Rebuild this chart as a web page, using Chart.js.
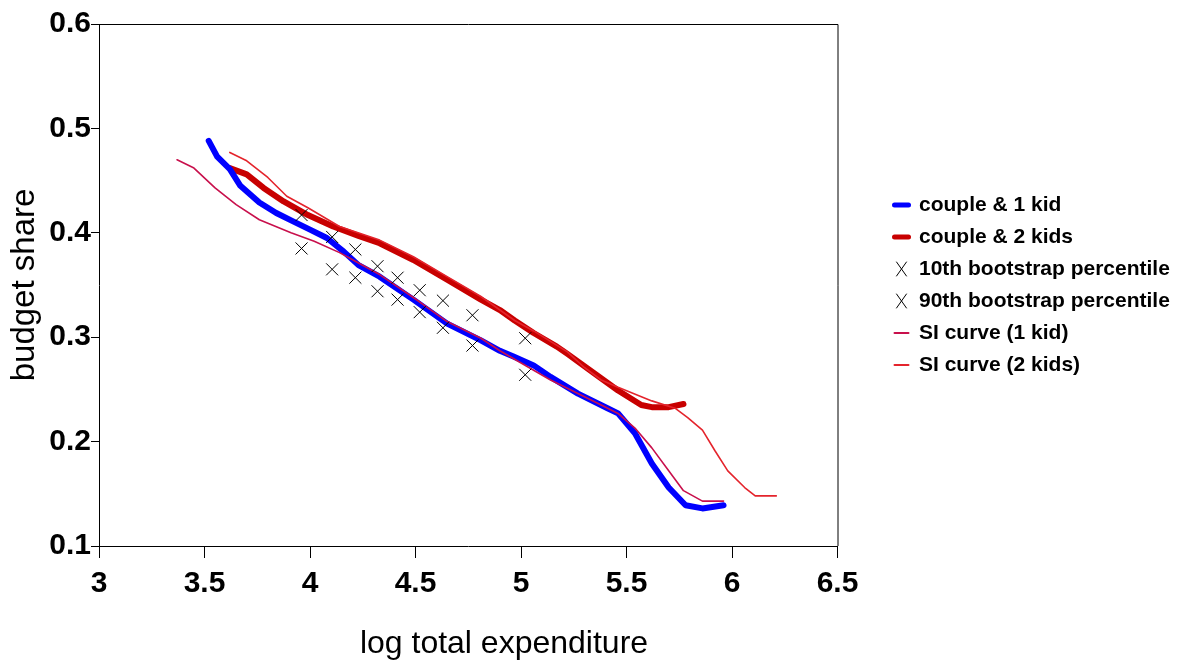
<!DOCTYPE html>
<html>
<head>
<meta charset="utf-8">
<script src="https://cdn.jsdelivr.net/npm/chart.js@4.4.1/dist/chart.umd.min.js"></script>
<style>
  body { margin: 0; background: #fff; }
  canvas { display: block; }
</style>
</head>
<body>
<canvas id="shareChart" width="1185" height="660"></canvas>
<script>
// axis ticks
const xTicks = [3, 3.5, 4, 4.5, 5, 5.5, 6, 6.5];
const yTicks = [0.1, 0.2, 0.3, 0.4, 0.5, 0.6];

// couple & 1 kid (thick blue)
const kid1X = [3.52, 3.56, 3.62, 3.67, 3.76, 3.84, 3.92, 4.00, 4.08, 4.16, 4.23, 4.33, 4.49, 4.65, 4.81, 4.90, 4.97, 5.06, 5.14, 5.27, 5.41, 5.46, 5.54, 5.62, 5.70, 5.78, 5.86, 5.96];
const kid1Y = [0.488, 0.473, 0.461, 0.445, 0.429, 0.419, 0.411, 0.403, 0.395, 0.382, 0.369, 0.358, 0.336, 0.313, 0.297, 0.287, 0.281, 0.273, 0.262, 0.246, 0.232, 0.227, 0.208, 0.179, 0.156, 0.139, 0.136, 0.139];

// couple & 2 kids (thick red)
const kid2X = [3.62, 3.70, 3.78, 3.875, 3.99, 4.11, 4.23, 4.33, 4.49, 4.65, 4.81, 4.90, 4.97, 5.06, 5.17, 5.22, 5.35, 5.46, 5.57, 5.62, 5.70, 5.77];
const kid2Y = [0.462, 0.456, 0.443, 0.430, 0.417, 0.406, 0.397, 0.390, 0.374, 0.355, 0.336, 0.326, 0.316, 0.304, 0.291, 0.284, 0.265, 0.249, 0.235, 0.233, 0.233, 0.236];

// bootstrap percentiles
const bootX = [3.96, 4.105, 4.215, 4.32, 4.415, 4.52, 4.63, 4.77, 5.02];
const p10Y = [0.385, 0.365, 0.357, 0.344, 0.336, 0.324, 0.309, 0.292, 0.264];
const p90Y = [0.417, 0.396, 0.384, 0.368, 0.357, 0.345, 0.335, 0.321, 0.299];

// SI curve (1 kid)
const si1X = [3.37, 3.45, 3.55, 3.65, 3.76, 3.91, 4.02, 4.14, 4.23, 4.33, 4.49, 4.65, 4.81, 4.90, 5.14, 5.38, 5.46, 5.54, 5.62, 5.70, 5.77, 5.86, 5.96];
const si1Y = [0.470, 0.462, 0.443, 0.427, 0.4125, 0.400, 0.392, 0.381, 0.371, 0.360, 0.338, 0.315, 0.299, 0.287, 0.259, 0.235, 0.227, 0.213, 0.194, 0.172, 0.153, 0.143, 0.143];

// SI curve (2 kids)
const si2X = [3.62, 3.70, 3.80, 3.89, 3.99, 4.14, 4.33, 4.49, 4.65, 4.81, 4.97, 5.06, 5.22, 5.30, 5.38, 5.46, 5.62, 5.73, 5.79, 5.86, 5.92, 5.98, 6.06, 6.11, 6.21];
const si2Y = [0.477, 0.469, 0.453, 0.435, 0.424, 0.406, 0.393, 0.377, 0.358, 0.339, 0.316, 0.306, 0.286, 0.271, 0.259, 0.252, 0.239, 0.232, 0.223, 0.211, 0.191, 0.172, 0.156, 0.148, 0.148];

const pts = (xs, ys) => xs.map((x, i) => ({ x: x, y: ys[i] }));

Chart.defaults.font.family = "'Liberation Sans', Arial, sans-serif";
Chart.defaults.color = '#000';

// top/right frame of the plot box + x axis title
const frame = {
  id: 'frame',
  afterDraw(chart) {
    const { ctx, chartArea: a } = chart;
    ctx.save();
    ctx.strokeStyle = '#000';
    ctx.lineWidth = 1;
    ctx.beginPath();
    ctx.moveTo(a.left, a.top + 0.5);
    ctx.lineTo(a.right + 0.5, a.top + 0.5);
    ctx.lineTo(a.right + 0.5, a.bottom);
    ctx.stroke();
    ctx.font = "32px 'Liberation Sans', Arial, sans-serif";
    ctx.fillStyle = '#000';
    ctx.textAlign = 'center';
    ctx.textBaseline = 'alphabetic';
    ctx.fillText('log total expenditure', 504, 653);
    ctx.restore();
  }
};

const lineSet = (label, xs, ys, color, width, order, legendWidth) => ({
  label: label,
  data: pts(xs, ys),
  showLine: true,
  borderColor: color,
  backgroundColor: color,
  borderWidth: width,
  borderCapStyle: 'round',
  borderJoinStyle: 'round',
  pointRadius: 0,
  tension: 0,
  order: order,
  legendStyle: 'line',
  legendWidth: legendWidth
});

const crossSet = (label, ys) => ({
  label: label,
  data: pts(bootX, ys),
  showLine: false,
  pointStyle: 'crossRot',
  pointRadius: 8.5,
  borderColor: '#000',
  backgroundColor: '#000',
  borderWidth: 1,
  order: 1,
  legendStyle: 'crossRot',
  legendWidth: 1
});

new Chart(document.getElementById('shareChart'), {
  type: 'scatter',
  data: {
    datasets: [
      lineSet('couple & 1 kid', kid1X, kid1Y, '#0000ff', 6, 3, 5),
      lineSet('couple & 2 kids', kid2X, kid2Y, '#c80000', 6, 3, 5),
      crossSet('10th bootstrap percentile', p10Y),
      crossSet('90th bootstrap percentile', p90Y),
      lineSet('SI curve (1 kid)', si1X, si1Y, '#c8104c', 1.6, 2, 2),
      lineSet('SI curve (2 kids)', si2X, si2Y, '#e4242c', 1.6, 2, 2)
    ]
  },
  options: {
    responsive: false,
    animation: false,
    devicePixelRatio: 1,
    layout: { padding: { top: 24, right: 7, bottom: 0, left: 0 } },
    plugins: {
      tooltip: { enabled: false },
      legend: {
        position: 'right',
        fullSize: false,
        labels: {
          usePointStyle: true,
          pointStyleWidth: 14,
          boxHeight: 14,
          padding: 11,
          color: '#000',
          font: { size: 21, weight: 'bold' },
          generateLabels: chart => chart.data.datasets.map((ds, i) => ({
            text: ds.label,
            datasetIndex: i,
            pointStyle: ds.legendStyle,
            strokeStyle: ds.borderColor,
            fillStyle: ds.borderColor,
            lineWidth: ds.legendWidth,
            lineCap: 'round',
            fontColor: '#000',
            hidden: false
          }))
        }
      }
    },
    scales: {
      x: {
        type: 'linear',
        min: 3,
        max: 6.5,
        afterBuildTicks: s => { s.ticks = xTicks.map(v => ({ value: v })); },
        afterFit: s => { s.height = 114; },
        ticks: {
          padding: 8,
          font: { size: 30, weight: 'bold' },
          callback: v => String(v)
        },
        grid: { drawOnChartArea: false, drawTicks: true, tickLength: 12, color: '#000' },
        border: { display: true, color: '#000', width: 1 }
      },
      y: {
        type: 'linear',
        min: 0.1,
        max: 0.6,
        afterBuildTicks: s => { s.ticks = yTicks.map(v => ({ value: v })); },
        afterFit: s => { s.width = 99; },
        ticks: {
          padding: 0,
          font: { size: 30, weight: 'bold' },
          callback: v => v.toFixed(1)
        },
        grid: { drawOnChartArea: false, drawTicks: true, tickLength: 8, color: '#000' },
        border: { display: true, color: '#000', width: 1 },
        title: {
          display: true,
          text: 'budget share',
          font: { size: 33 },
          padding: { top: 5, bottom: 0 }
        }
      },
      // hidden spacer between the plot box and the legend
      gap: {
        position: 'right',
        display: false,
        min: 0,
        max: 1,
        afterFit: s => { s.width = 46; }
      }
    }
  },
  plugins: [frame]
});
</script>
</body>
</html>
